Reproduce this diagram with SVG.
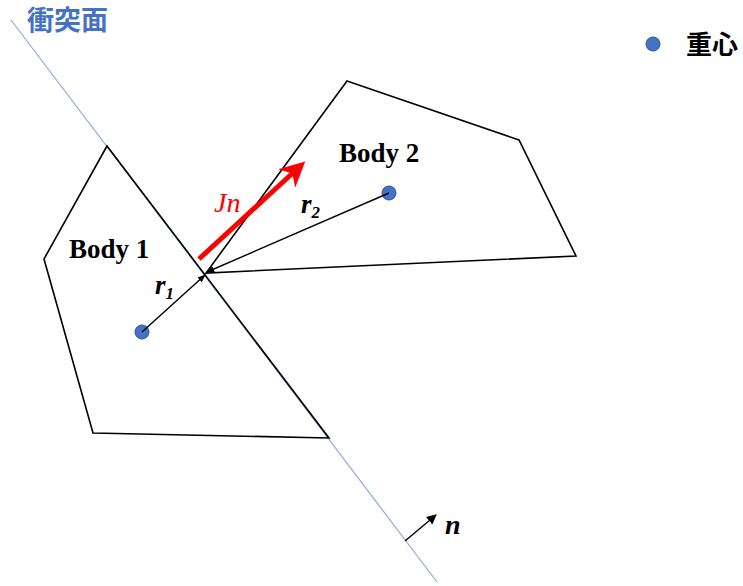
<svg xmlns="http://www.w3.org/2000/svg" width="743" height="586" viewBox="0 0 743 586">
<style>
.body{fill:none;stroke:#000;stroke-width:1.6;stroke-linejoin:miter}
.lbl{font-family:"Liberation Serif",serif;font-weight:bold;font-size:27px;fill:#000}
.vec{font-family:"Liberation Serif",serif;font-style:italic;font-weight:bold;fill:#000}
.dot{fill:#4472C4;stroke:#2F528F;stroke-width:1}
.arr{stroke:#000;stroke-width:1.4;fill:none}
</style>
<defs>
<marker id="ah" viewBox="0 0 10 10" refX="9" refY="5" markerWidth="8" markerHeight="8" orient="auto" markerUnits="userSpaceOnUse">
<path d="M0,1 L10,5 L0,9 z" fill="#000"/>
</marker>
<marker id="ahn" viewBox="0 0 10 10" refX="9" refY="5" markerWidth="10" markerHeight="10" orient="auto" markerUnits="userSpaceOnUse">
<path d="M0,0 L10,5 L0,10 z" fill="#000"/>
</marker>
<marker id="ahr" viewBox="0 0 10 10" refX="5" refY="5" markerWidth="5" markerHeight="5" orient="auto" markerUnits="strokeWidth">
<path d="M0,0 L10,5 L0,10 L3,5 z" fill="#FF0000"/>
</marker>
</defs>
<g id="plane">
<line x1="11" y1="20" x2="437" y2="582" stroke="#8FAADC" stroke-width="1.2"/>
<text x="27" y="30" font-family="'Noto Sans CJK JP',sans-serif" font-weight="bold" font-size="27" fill="#4472C4">衝突面</text>
</g>
<g id="body1">
<polygon class="body" points="107,146 44,259 93,433 329,438"/>
<text class="lbl" x="69" y="258">Body 1</text>
<circle class="dot" cx="142" cy="332" r="7"/>
</g>
<g id="body2">
<polygon class="body" points="347,81 519,140 576,256 206,273"/>
<text class="lbl" x="339" y="162">Body 2</text>
<circle class="dot" cx="389" cy="193" r="7"/>
</g>
<g id="legend">
<circle class="dot" cx="653" cy="44" r="7"/>
<text x="686" y="54" font-family="'Noto Sans CJK JP',sans-serif" font-weight="bold" font-size="26" fill="#000">重心</text>
</g>
<g id="connectors">
<line class="arr" x1="142" y1="332" x2="205" y2="275" marker-end="url(#ah)"/>
<line class="arr" x1="389" y1="193" x2="207" y2="272" marker-end="url(#ah)"/>
<line x1="199" y1="259" x2="296" y2="170" stroke="#FF0000" stroke-width="5" marker-end="url(#ahr)"/>
<line class="arr" x1="405" y1="541" x2="436" y2="515" marker-end="url(#ahn)"/>
</g>
<g id="labels">
<text x="214" y="212" font-family="'Liberation Serif',serif" font-style="italic" font-size="28" fill="#FF0000">Jn</text>
<text class="vec" x="301" y="213" font-size="27">r<tspan font-size="17" dy="5">2</tspan></text>
<text class="vec" x="155" y="294" font-size="27">r<tspan font-size="17" dy="5">1</tspan></text>
<text class="vec" x="445" y="534" font-size="28">n</text>
</g>
</svg>
